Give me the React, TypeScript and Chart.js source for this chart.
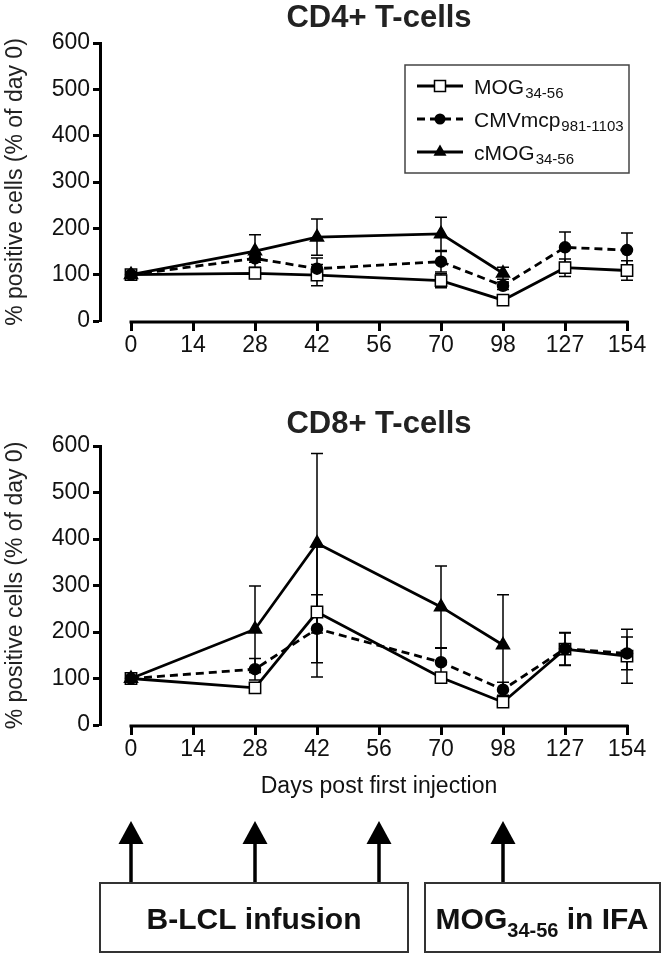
import React, { useEffect, useRef } from 'react';
import { Chart, registerables } from 'chart.js';
Chart.register(...registerables);

// ---------- data ----------
const DAYS = ['0', '14', '28', '42', '56', '70', '98', '127', '154'];

const CD4_MOG = [100, null, 103, 99, null, 87, 45, 115, 109];
const CD4_MOG_ERR = [5, null, 5, 23, null, 15, 5, 19, 21];
const CD4_CMV = [100, null, 135, 113, null, 128, 76, 159, 153];
const CD4_CMV_ERR = [5, null, 8, 23, null, 22, 8, 33, 37];
const CD4_CMOG = [100, null, 151, 181, null, 188, 103, null, null];
const CD4_CMOG_ERR = [5, null, 35, 39, null, 36, 13, null, null];

const CD8_MOG = [100, null, 80, 243, null, 102, 49, 163, 148];
const CD8_MOG_ERR = [6, null, 6, 140, null, 8, 6, 35, 58];
const CD8_CMV = [100, null, 120, 207, null, 135, 76, 164, 154];
const CD8_CMV_ERR = [6, null, 23, 73, null, 30, 16, 35, 35];
const CD8_CMOG = [100, null, 206, 391, null, 254, 172, null, null];
const CD8_CMOG_ERR = [6, null, 93, 193, null, 88, 108, null, null];

const SERIES_NAMES = ['MOG', 'CMVmcp', 'cMOG'];
const SERIES_SUBS = ['34-56', '981-1103', '34-56'];
const Y_TICKS_MAX = 600;
const Y_STEP = 100;
const ARROW_DAY_INDEX = [0, 2, 4, 6];
const ANNOT_LEFT = 'B-LCL infusion';
const ANNOT_RIGHT_MAIN = 'MOG';
const ANNOT_RIGHT_SUB = '34-56';
const ANNOT_RIGHT_TAIL = ' in IFA';
const X_TITLE = 'Days post first injection';
const Y_TITLE = '% positive cells (% of day 0)';

// ---------- styling ----------
const FONT = "'Liberation Sans', Arial, sans-serif";
const NARROW = "'Liberation Sans Narrow', 'Liberation Sans', Arial, sans-serif";
const STYLES = [
  { pointStyle: 'rect', radius: 8, fill: '#ffffff', dash: [] as number[] },
  { pointStyle: 'circle', radius: 5.5, fill: '#000000', dash: [8, 5] },
  { pointStyle: 'triangle', radius: 7.5, fill: '#000000', dash: [] as number[] },
];

function drawMarker(ctx: CanvasRenderingContext2D, idx: number, x: number, y: number) {
  ctx.save();
  ctx.setLineDash([]);
  ctx.lineWidth = 1.5;
  ctx.strokeStyle = '#000';
  if (idx === 0) {
    ctx.fillStyle = '#fff';
    ctx.fillRect(x - 5.5, y - 5.5, 11, 11);
    ctx.strokeRect(x - 5.5, y - 5.5, 11, 11);
  } else if (idx === 1) {
    ctx.fillStyle = '#000';
    ctx.beginPath();
    ctx.arc(x, y, 5.5, 0, Math.PI * 2);
    ctx.fill();
  } else {
    ctx.fillStyle = '#000';
    ctx.beginPath();
    ctx.moveTo(x, y - 7.5);
    ctx.lineTo(x + 6.5, y + 3.75);
    ctx.lineTo(x - 6.5, y + 3.75);
    ctx.closePath();
    ctx.fill();
  }
  ctx.restore();
}

const errorBars = {
  id: 'errorBars',
  beforeDatasetsDraw(chart: any) {
    const { ctx } = chart;
    const xs = chart.scales.x;
    const ys = chart.scales.y;
    ctx.save();
    ctx.strokeStyle = '#000';
    ctx.lineWidth = 1.5;
    ctx.setLineDash([]);
    chart.data.datasets.forEach((ds: any) => {
      const errs = ds.errors as (number | null)[];
      ds.data.forEach((p: any, i: number) => {
        const e = errs[i];
        if (p.y == null || e == null) return;
        const px = xs.getPixelForValue(p.x);
        const t = ys.getPixelForValue(p.y + e);
        const b = ys.getPixelForValue(p.y - e);
        ctx.beginPath();
        ctx.moveTo(px, t);
        ctx.lineTo(px, b);
        ctx.moveTo(px - 6, t);
        ctx.lineTo(px + 6, t);
        ctx.moveTo(px - 6, b);
        ctx.lineTo(px + 6, b);
        ctx.stroke();
      });
    });
    ctx.restore();
  },
};

const xAxisLine = {
  id: 'xAxisLine',
  afterDraw(chart: any) {
    const { ctx, chartArea } = chart;
    const xs = chart.scales.x;
    const x0 = xs.getPixelForValue(0);
    const x1 = xs.getPixelForValue(DAYS.length - 1);
    ctx.save();
    ctx.strokeStyle = '#000';
    ctx.lineWidth = 3;
    ctx.beginPath();
    ctx.moveTo(x0 - 1.5, chartArea.bottom + 1);
    ctx.lineTo(x1 + 1.5, chartArea.bottom + 1);
    ctx.stroke();
    ctx.restore();
  },
};

function titlePlugin(text: string, y: number) {
  return {
    id: 'panelTitle',
    afterDraw(chart: any) {
      const { ctx } = chart;
      const xs = chart.scales.x;
      const cx = (xs.getPixelForValue(0) + xs.getPixelForValue(DAYS.length - 1)) / 2;
      ctx.save();
      ctx.fillStyle = '#222';
      ctx.font = `bold 31px ${FONT}`;
      ctx.textAlign = 'center';
      ctx.textBaseline = 'middle';
      ctx.fillText(text, cx, y);
      ctx.restore();
    },
  };
}

const legendPlugin = {
  id: 'customLegend',
  afterDraw(chart: any) {
    const { ctx } = chart;
    ctx.save();
    ctx.strokeStyle = '#444';
    ctx.lineWidth = 1.5;
    ctx.strokeRect(405, 65, 224, 108);
    const ys = [86, 119, 152];
    SERIES_NAMES.forEach((name, i) => {
      const y = ys[i];
      ctx.save();
      ctx.strokeStyle = '#000';
      ctx.lineWidth = 3;
      ctx.setLineDash(STYLES[i].dash);
      ctx.beginPath();
      ctx.moveTo(417, y);
      ctx.lineTo(463, y);
      ctx.stroke();
      ctx.restore();
      drawMarker(ctx, i, 440, y);
      ctx.fillStyle = '#111';
      ctx.textAlign = 'left';
      ctx.textBaseline = 'alphabetic';
      ctx.font = `21px ${FONT}`;
      ctx.fillText(name, 474, y + 7.5);
      const w = ctx.measureText(name).width;
      ctx.font = `15px ${FONT}`;
      ctx.fillText(SERIES_SUBS[i], 474 + w + 1, y + 12);
    });
    ctx.restore();
  },
};

const annotationPlugin = {
  id: 'annotations',
  afterDraw(chart: any) {
    const { ctx } = chart;
    const xs = chart.scales.x;
    const cx = (xs.getPixelForValue(0) + xs.getPixelForValue(DAYS.length - 1)) / 2;
    ctx.save();
    ctx.fillStyle = '#111';
    ctx.font = `23px ${FONT}`;
    ctx.textAlign = 'center';
    ctx.textBaseline = 'middle';
    ctx.fillText(X_TITLE, cx, 407);

    // arrows
    ARROW_DAY_INDEX.forEach((d) => {
      const ax = xs.getPixelForValue(d);
      ctx.fillStyle = '#000';
      ctx.beginPath();
      ctx.moveTo(ax, 441);
      ctx.lineTo(ax + 12.5, 464);
      ctx.lineTo(ax - 12.5, 464);
      ctx.closePath();
      ctx.fill();
      ctx.strokeStyle = '#000';
      ctx.lineWidth = 3.5;
      ctx.beginPath();
      ctx.moveTo(ax, 462);
      ctx.lineTo(ax, 503);
      ctx.stroke();
    });

    // boxes
    ctx.strokeStyle = '#333';
    ctx.lineWidth = 2;
    ctx.fillStyle = '#fff';
    ctx.fillRect(100, 503, 308, 69);
    ctx.strokeRect(100, 503, 308, 69);
    ctx.fillRect(425, 503, 235, 69);
    ctx.strokeRect(425, 503, 235, 69);

    ctx.fillStyle = '#111';
    ctx.font = `bold 30px ${FONT}`;
    ctx.textAlign = 'center';
    ctx.textBaseline = 'alphabetic';
    ctx.fillText(ANNOT_LEFT, 254, 549);

    ctx.textAlign = 'left';
    ctx.font = `bold 30px ${FONT}`;
    const w1 = ctx.measureText(ANNOT_RIGHT_MAIN).width;
    const w3 = ctx.measureText(ANNOT_RIGHT_TAIL).width;
    ctx.font = `bold 20px ${FONT}`;
    const w2 = ctx.measureText(ANNOT_RIGHT_SUB).width;
    let sx = 542 - (w1 + w2 + w3) / 2;
    ctx.font = `bold 30px ${FONT}`;
    ctx.fillText(ANNOT_RIGHT_MAIN, sx, 549);
    sx += w1;
    ctx.font = `bold 20px ${FONT}`;
    ctx.fillText(ANNOT_RIGHT_SUB, sx, 557);
    sx += w2;
    ctx.font = `bold 30px ${FONT}`;
    ctx.fillText(ANNOT_RIGHT_TAIL, sx, 549);
    ctx.restore();
  },
};

function makeDatasets(vals: (number | null)[][], errs: (number | null)[][]) {
  return vals.map((v, i) => ({
    label: SERIES_NAMES[i] + SERIES_SUBS[i],
    data: v.map((y, k) => ({ x: k, y })),
    errors: errs[i],
    borderColor: '#000',
    borderWidth: 2.8,
    borderDash: STYLES[i].dash,
    pointStyle: STYLES[i].pointStyle,
    pointRadius: STYLES[i].radius,
    pointHoverRadius: STYLES[i].radius,
    pointBackgroundColor: STYLES[i].fill,
    pointBorderColor: '#000',
    pointBorderWidth: 1.5,
    spanGaps: true,
    clip: false,
    tension: 0,
    order: 3 - i,
  }));
}

type PanelProps = {
  height: number;
  padTop: number;
  padBottom: number;
  xHeight: number;
  title: string;
  titleY: number;
  vals: (number | null)[][];
  errs: (number | null)[][];
  extra: any[];
};

function Panel(props: PanelProps) {
  const ref = useRef<HTMLCanvasElement | null>(null);
  useEffect(() => {
    if (!ref.current) return;
    const chart = new Chart(ref.current, {
      type: 'line',
      data: { datasets: makeDatasets(props.vals, props.errs) as any },
      options: {
        animation: false,
        responsive: false,
        devicePixelRatio: 1,
        layout: { padding: { top: props.padTop, right: 38, bottom: props.padBottom, left: 0 } },
        plugins: { legend: { display: false }, tooltip: { enabled: false }, title: { display: false } },
        scales: {
          x: {
            type: 'linear',
            min: -0.5,
            max: DAYS.length - 1,
            afterBuildTicks: (s: any) => {
              s.ticks = DAYS.map((_, i) => ({ value: i }));
            },
            afterFit: (s: any) => {
              s.height = props.xHeight;
            },
            ticks: {
              callback: (v: any) => DAYS[Math.round(v)] ?? '',
              font: { family: NARROW, size: 23 },
              color: '#111',
              padding: 1,
              maxRotation: 0,
              autoSkip: false,
            },
            grid: { drawOnChartArea: false, drawTicks: true, tickLength: 10, tickWidth: 3, tickColor: '#000' },
            border: { display: false },
          },
          y: {
            min: 0,
            max: Y_TICKS_MAX,
            afterFit: (s: any) => {
              s.width = 100;
            },
            ticks: { stepSize: Y_STEP, font: { family: NARROW, size: 23 }, color: '#111', padding: 3 },
            grid: { drawOnChartArea: false, drawTicks: true, tickLength: 7, tickWidth: 3, tickColor: '#000' },
            border: { display: true, width: 3, color: '#000' },
            title: {
              display: true,
              text: Y_TITLE,
              font: { family: FONT, size: 23 },
              color: '#222',
              padding: { top: 2, bottom: 2 },
            },
          },
        },
      },
      plugins: [errorBars, xAxisLine, titlePlugin(props.title, props.titleY), ...props.extra],
    } as any);
    return () => chart.destroy();
  }, []);
  return (
    <canvas
      ref={ref}
      width={665}
      height={props.height}
      style={{ display: 'block', width: 665, height: props.height }}
    />
  );
}

export default function App() {
  return (
    <div style={{ position: 'absolute', left: 0, top: 0, width: 665, height: 958, background: '#fff' }}>
      <Panel
        height={380}
        padTop={43}
        padBottom={21}
        xHeight={38}
        title="CD4+ T-cells"
        titleY={18}
        vals={[CD4_MOG, CD4_CMV, CD4_CMOG]}
        errs={[CD4_MOG_ERR, CD4_CMV_ERR, CD4_CMOG_ERR]}
        extra={[legendPlugin]}
      />
      <Panel
        height={578}
        padTop={66}
        padBottom={195}
        xHeight={38}
        title="CD8+ T-cells"
        titleY={44}
        vals={[CD8_MOG, CD8_CMV, CD8_CMOG]}
        errs={[CD8_MOG_ERR, CD8_CMV_ERR, CD8_CMOG_ERR]}
        extra={[annotationPlugin]}
      />
    </div>
  );
}
